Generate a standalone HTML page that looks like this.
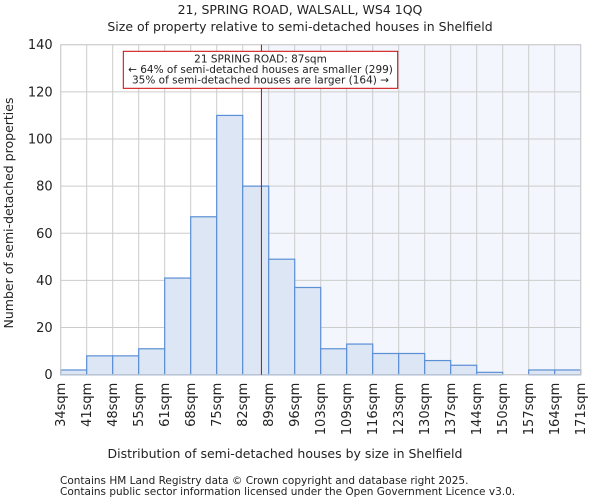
<!DOCTYPE html>
<html><head><meta charset="utf-8"><style>
body{margin:0;background:#fff;font-family:"DejaVu Sans","Liberation Sans",sans-serif}
svg text{font-family:"DejaVu Sans","Liberation Sans",sans-serif;fill:#222}
</style></head><body>
<svg id="c" width="600" height="500" xmlns="http://www.w3.org/2000/svg">
<text x="300" y="14" font-size="12.5" text-anchor="middle">21, SPRING ROAD, WALSALL, WS4 1QQ</text>
<text x="300" y="31" font-size="12.5" text-anchor="middle">Size of property relative to semi-detached houses in Shelfield</text>
<g id="plot"></g>
<text x="285" y="458" font-size="12.5" text-anchor="middle">Distribution of semi-detached houses by size in Shelfield</text>
<text transform="translate(13,213) rotate(-90)" font-size="12.5" text-anchor="middle">Number of semi-detached properties</text>
<text x="60" y="484" font-size="10.5" fill="#444">Contains HM Land Registry data © Crown copyright and database right 2025.</text>
<text x="60" y="495" font-size="10.5" fill="#444">Contains public sector information licensed under the Open Government Licence v3.0.</text>
</svg>
<script>
const categories=["34sqm","41sqm","48sqm","55sqm","61sqm","68sqm","75sqm","82sqm","89sqm","96sqm","103sqm","109sqm","116sqm","123sqm","130sqm","137sqm","144sqm","150sqm","157sqm","164sqm","171sqm"];
const counts=[2,8,8,11,41,67,110,80,49,37,11,13,9,9,6,4,1,0,2,2];
const yTicks=[0,20,40,60,80,100,120,140];
const markerBin=7.72;
const annotationLines=["21 SPRING ROAD: 87sqm","← 64% of semi-detached houses are smaller (299)","35% of semi-detached houses are larger (164) →"];
const NS="http://www.w3.org/2000/svg";
const X0=60.7,X1=580.7,Y0=374.7,Y1=44.7,YMAX=140;
const bw=(X1-X0)/counts.length;
const xs=i=>X0+i*bw;
const ys=v=>Y0-(v/YMAX)*(Y0-Y1);
const g=document.getElementById('plot');
function mk(t,a){const e=document.createElementNS(NS,t);for(const k in a)e.setAttribute(k,a[k]);g.appendChild(e);return e;}
const mx=xs(markerBin);
let e=mk('rect',{x:mx,y:Y1,width:X1-mx,height:Y0-Y1,fill:'#f3f6fd'});


yTicks.forEach(t=>{
 let l=mk('line',{x1:X0,x2:X1,y1:ys(t),y2:ys(t),stroke:'#ccc','stroke-width':1});
 
 
 let tx=mk('text',{x:X0-8,y:ys(t)+4.5,'font-size':13,'text-anchor':'end'});tx.textContent=t;
 
 
});
categories.forEach((c,i)=>{
 let l=mk('line',{x1:xs(i),x2:xs(i),y1:Y1,y2:Y0,stroke:'#ccc','stroke-width':1});
 
 
 let tx=mk('text',{transform:`translate(${xs(i)+4.5},${Y0+8}) rotate(-90)`,'font-size':13,'text-anchor':'end'});tx.textContent=c;
 
 
});
counts.forEach((v,i)=>{
 if(v<=0)return;
 let r=mk('rect',{x:xs(i),y:ys(v),width:bw,height:Y0-ys(v),fill:'#dce6f4',stroke:'#5b8fd6','stroke-width':1.2});
 
 
});
let fr=mk('rect',{x:X0,y:Y1,width:X1-X0,height:Y0-Y1,fill:'none',stroke:'#ccc','stroke-width':1});


let ml=mk('line',{x1:mx,x2:mx,y1:Y1,y2:Y0,stroke:'#c00','stroke-width':1});


let ab=mk('rect',{x:123.3,y:51.3,width:274.4,height:37,fill:'#fff',stroke:'#c00','stroke-width':1});


annotationLines.forEach((s,i)=>{
 let t=mk('text',{x:260.5,y:62.5+i*10.5,'font-size':10.5,'text-anchor':'middle'});t.textContent=s;
 
 
});
</script>
</body></html>
